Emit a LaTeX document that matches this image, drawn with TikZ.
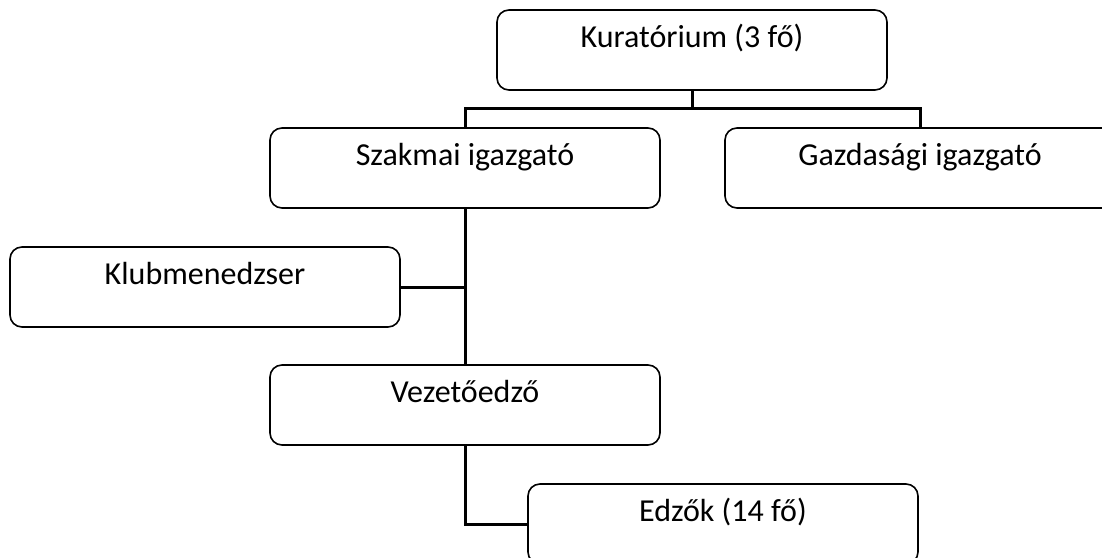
\documentclass[tikz,border=0pt]{standalone}
\usepackage{fontspec}
\setmainfont{Carlito}
\usepackage{tikz}
\usetikzlibrary{positioning, calc}

\begin{document}
\begin{tikzpicture}[
    x=1pt, y=-1pt,
    unit/.style={rectangle, draw, line width=1.6pt, rounded corners=12pt, minimum width=390pt,
        inner ysep=0pt, text height=37pt, text depth=43pt, font=\fontsize{32}{38}\selectfont},
    link/.style={draw, line width=3pt}
]
\useasboundingbox (0,0) rectangle (1102,557);

% Top level
\node[unit] (kurator) at (692,50) {Kuratórium (3 fő)};

% Directors
\node[unit] (szakmai) at (465,168) {Szakmai igazgató};
\node[unit] (gazdasagi) at (920,168) {Gazdasági igazgató};

% Below the professional director
\node[unit] (klub) at (205,287) {Klubmenedzser};
\node[unit] (vezeto) at (465,405) {Vezetőedző};
\node[unit] (edzok) at (723,524) {Edzők (14 fő)};

% Connections
\coordinate (branch) at (692,108);
\draw[link] (kurator.south) -- (branch);
\draw[link] (branch) -| (szakmai.north);
\draw[link] (branch) -| (gazdasagi.north);
\draw[link] (szakmai.south) -- (vezeto.north);
\draw[link] (klub.east) -- (klub.east -| szakmai.south);
\draw[link] (vezeto.south) |- (edzok.west);

\end{tikzpicture}
\end{document}
